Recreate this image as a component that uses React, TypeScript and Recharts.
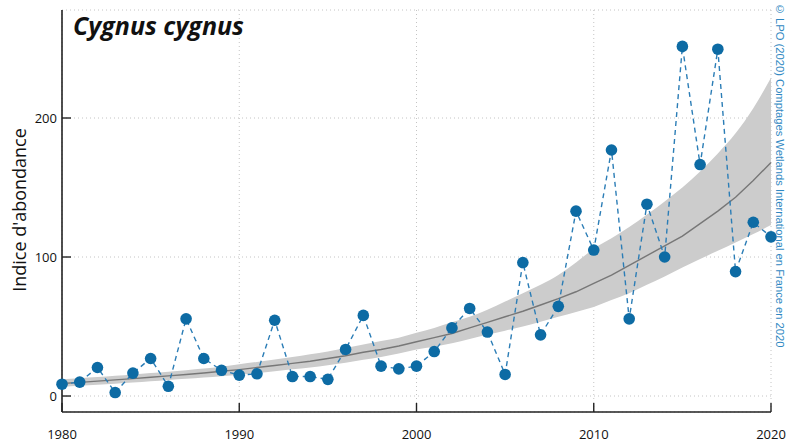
import {
  ComposedChart, Area, Line, XAxis, YAxis, CartesianGrid
} from 'recharts';

const years = [
  1980, 1981, 1982, 1983, 1984, 1985, 1986, 1987, 1988, 1989,
  1990, 1991, 1992, 1993, 1994, 1995, 1996, 1997, 1998, 1999,
  2000, 2001, 2002, 2003, 2004, 2005, 2006, 2007, 2008, 2009,
  2010, 2011, 2012, 2013, 2014, 2015, 2016, 2017, 2018, 2019, 2020,
];

// observed index
const index = [
  8.5, 10, 20.5, 2.5, 16.5, 27, 7, 55.5, 27, 18.5,
  15, 16, 54.5, 14, 14, 12, 33.5, 58, 21.5, 19.5,
  21.5, 32, 49, 63, 46, 15.5, 96, 44, 64.5, 133,
  105, 177, 55.5, 138, 100, 251.5, 166.5, 249.5, 89.5, 125, 114.5,
];

// fitted trend + confidence band
const trend = [
  9, 9.8, 10.7, 11.6, 12.5, 13.5, 14.5, 15.5, 16.6, 17.8,
  19, 20.5, 22, 23.5, 25, 27, 29, 31.5, 33.5, 36,
  39, 42, 45, 49, 53, 57, 61, 65.5, 70, 75,
  81, 87, 94, 101, 108, 115, 124, 133, 143, 155, 168,
];
const lower = [
  6.5, 7.3, 8.1, 8.9, 9.7, 10.6, 11.5, 12.4, 13.3, 14.3,
  15.3, 16.5, 17.8, 19.2, 20.6, 22.2, 24, 26, 28, 30.5,
  33.5, 35.5, 38, 41, 44, 47, 50, 53.5, 57, 60.5,
  64, 69, 74, 80, 86, 92.5, 98.5, 104.5, 110.5, 116.5, 123,
];
const upper = [
  12, 12.8, 13.6, 14.5, 15.5, 16.5, 17.5, 18.6, 19.8, 21,
  22.8, 24.5, 26.2, 28, 30, 32, 34.5, 37, 39.5, 42,
  45.5, 49, 53, 57, 62, 68, 74, 80, 87, 96,
  106, 113.5, 121.5, 130.5, 140, 150, 161.5, 174.5, 189, 207, 229,
];

const xTicks = [1980, 1990, 2000, 2010, 2020];
const yTicks = [0, 100, 200];

const data = years.map((year, i) => ({
  year,
  index: index[i],
  trend: trend[i],
  band: [lower[i], upper[i]],
}));

const font = '"Open Sans", "Noto Sans", sans-serif';

const Dot = (props: any) => {
  const { cx, cy } = props;
  if (cx == null || cy == null) return null;
  return <circle cx={cx} cy={cy} r={5.8} fill="#0d6ba4" />;
};

export default function App() {
  return (
    <div style={{ position: 'absolute', left: 0, top: 0, width: 787, height: 448, background: '#fff', fontFamily: font }}>
      <ComposedChart
        width={787}
        height={448}
        data={data}
        margin={{ top: 10, right: 16, bottom: 0, left: 0 }}
      >
        <CartesianGrid stroke="#c4c4c4" strokeDasharray="1 3" />
        <XAxis
          dataKey="year"
          type="number"
          domain={[1980, 2020]}
          ticks={xTicks}
          height={36}
          axisLine={{ stroke: '#222', strokeWidth: 1.6 }}
          tickLine={{ stroke: '#222', strokeWidth: 1.4 }}
          tickSize={-9}
          tickMargin={27}
          tick={{ fill: '#111', fontSize: 13, fontFamily: font }}
        />
        <XAxis xAxisId="top" orientation="top" dataKey="year" type="number"
          domain={[1980, 2020]} height={0} tick={false} tickLine={false}
          axisLine={{ stroke: '#222', strokeWidth: 1.6 }} />
        <YAxis
          type="number"
          domain={[-11.5, 277.7]}
          ticks={yTicks}
          width={62}
          axisLine={{ stroke: '#222', strokeWidth: 1.6 }}
          tickLine={{ stroke: '#222', strokeWidth: 1.4 }}
          tickSize={-9}
          tickMargin={14}
          tick={{ fill: '#111', fontSize: 13, fontFamily: font }}
        />
        <YAxis yAxisId="right" orientation="right" width={0} tick={false}
          tickLine={false} axisLine={{ stroke: '#222', strokeWidth: 1.6 }} />
        <Area
          type="monotone"
          dataKey="band"
          stroke="none"
          fill="#cccccc"
          fillOpacity={1}
          isAnimationActive={false}
        />
        <Line
          type="linear"
          dataKey="trend"
          stroke="#777"
          strokeWidth={1.4}
          dot={false}
          isAnimationActive={false}
        />
        <Line
          type="linear"
          dataKey="index"
          stroke="#2b7db6"
          strokeWidth={1.4}
          strokeDasharray="5 4"
          dot={<Dot />}
          activeDot={false}
          isAnimationActive={false}
        />
      </ComposedChart>
      <div style={{ position: 'absolute', left: 8, top: 8, marginLeft: 65, fontSize: 25, fontWeight: 700, fontStyle: 'italic', color: '#111', whiteSpace: 'nowrap' }}>
        Cygnus cygnus
      </div>
      <div style={{ position: 'absolute', left: 19, top: 210, transform: 'translate(-50%, -50%) rotate(-90deg)', fontSize: 18, color: '#111', whiteSpace: 'nowrap' }}>
        Indice d'abondance
      </div>
      <div style={{ position: 'absolute', left: 774, top: 3, writingMode: 'vertical-rl', fontFamily: '"Liberation Sans", Arial, sans-serif', fontSize: 11.2, lineHeight: '12px', color: '#2f88c2', whiteSpace: 'nowrap' }}>
        © LPO (2020) Comptages Wetlands International en France en 2020
      </div>
    </div>
  );
}
